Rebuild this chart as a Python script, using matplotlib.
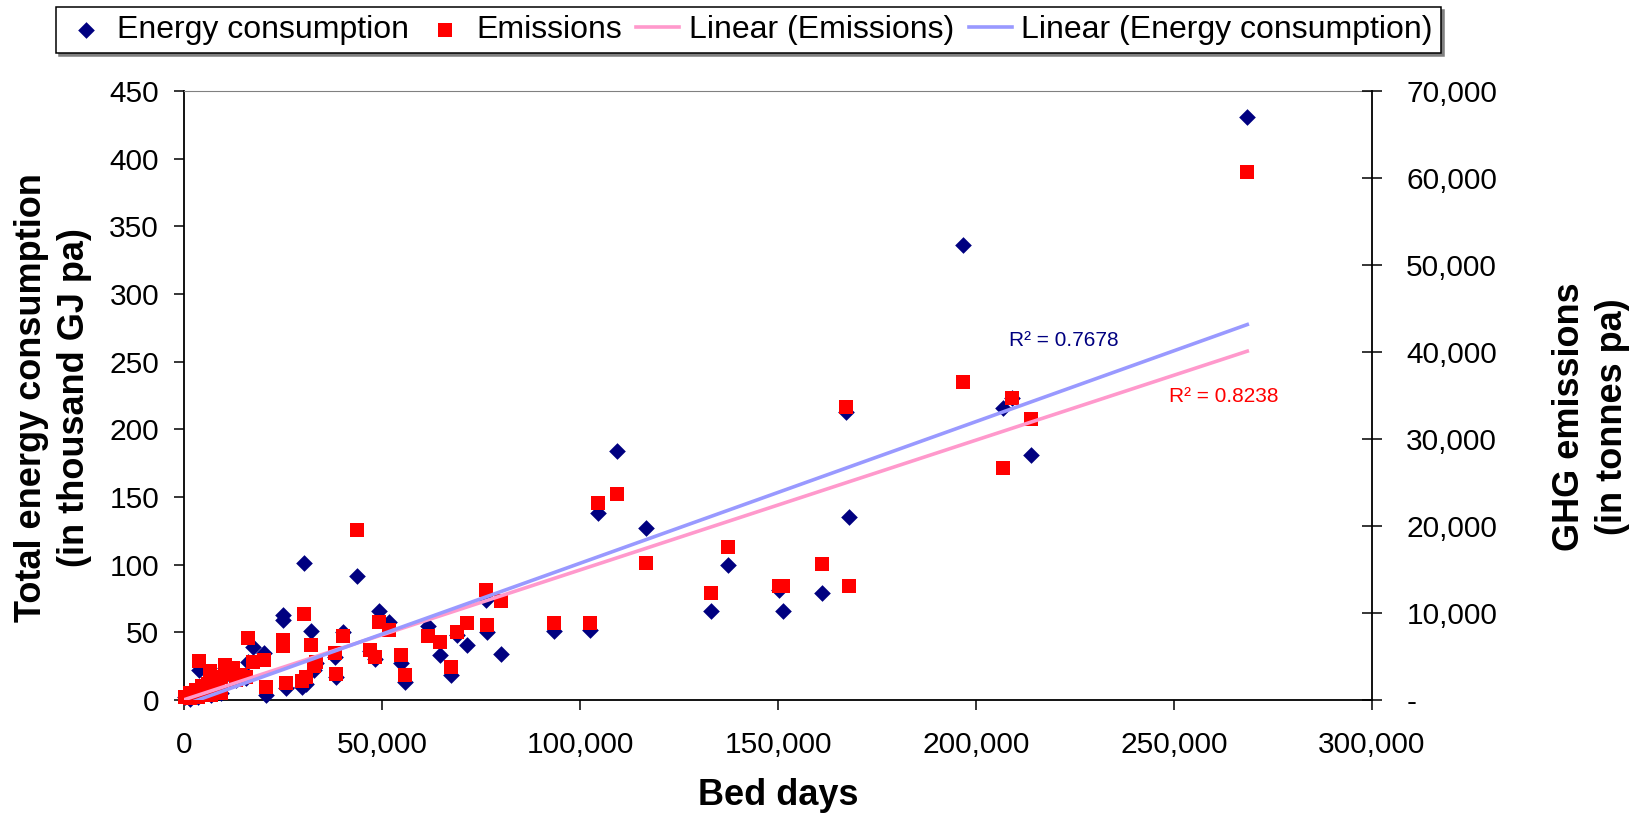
import numpy as np
import matplotlib
matplotlib.use('Agg')
import matplotlib.pyplot as plt
from matplotlib.ticker import FuncFormatter, MultipleLocator

plt.rcParams['font.family'] = ['Liberation Sans', 'DejaVu Sans']

# Bed days, energy (thousand GJ pa), emissions (tonnes pa)
bed_days = [268500, 196600, 206900, 209100, 213900, 167100, 167900, 109400, 104500, 116700,
            137400, 133000, 150200, 151300, 161100, 102500, 93300,
            80100, 76300, 76400, 71400, 68900, 67400, 64700, 61700, 55800, 54900,
            51700, 49200, 48200, 46900, 43600, 40100, 38000, 38400, 33400, 32900,
            32100, 30300, 30900, 29900, 25800, 24900, 24900, 20800, 20200, 17400,
            16200, 3800, 6500,
            250, 1500, 3000, 4500, 6000, 7800, 9300, 11100, 12100, 13100,
            8600, 6800, 3500, 10300, 12400, 14100, 15700, 9400, 1500]
energy = [431, 336, 216, 223, 181, 213, 135, 184, 138, 127,
          100, 66, 81, 66, 79, 52, 51,
          34, 74, 50.5, 40.6, 48, 18.5, 33, 54.7, 13, 27,
          58, 66, 30, 36, 92, 50.5, 32, 16.8, 27, 22,
          51, 101, 12, 9.9, 8.6, 62.8, 59.1, 3.7, 35, 39.4,
          28, 22.2, 19,
          2, 5, 7, 10, 12, 14, 16, 20, 18, 15,
          7, 4, 2, 24, 22, 17, 16, 5, 1]
emissions = [60700, 36500, 26700, 34700, 32300, 33700, 13050, 23700, 22600, 15700,
             17600, 12300, 13100, 13100, 15600, 8900, 8900,
             11400, 12600, 8600, 8900, 7800, 3800, 6700, 7300, 2900, 5200,
             8000, 9000, 5000, 5750, 19500, 7400, 5400, 2950, 4400, 3900,
             6300, 9850, 2600, 2200, 2000, 6900, 6200, 1450, 4650, 4400,
             7100, 4500, 3300,
             350, 800, 1150, 1600, 1850, 2050, 2650, 3200, 3000, 2300,
             1150, 600, 350, 4000, 3650, 2850, 2700, 750, 250]

r2_energy = 'R\u00b2 = 0.7678'
r2_emis = 'R\u00b2 = 0.8238'

x = np.array(bed_days, dtype=float)
e = np.array(energy, dtype=float)
m = np.array(emissions, dtype=float)

# linear trend lines
pe = np.polyfit(x, e, 1)
pm = np.polyfit(x, m, 1)
xt = np.array([x.min(), x.max()])

navy = '#000080'
red = '#FF0000'
pink = '#FF99CC'
lblue = '#9999FF'

fig = plt.figure(figsize=(16.39, 8.17), dpi=100)
ax1 = fig.add_axes([0.1123, 0.1432, 0.7248, 0.7454])
ax2 = ax1.twinx()

s1 = ax1.scatter(x, e, marker='D', s=72, color=navy, linewidths=0, clip_on=False, zorder=3)
s2 = ax2.scatter(x, m, marker='s', s=92, color=red, linewidths=0, clip_on=False, zorder=3)
l2, = ax2.plot(xt, np.polyval(pm, xt), color=pink, lw=2.6, zorder=4)
l1, = ax2.plot(xt, np.polyval(pe, xt), color=lblue, lw=2.6, zorder=5,
               transform=ax1.transData)

ax1.set_xlim(0, 300000)
ax1.set_ylim(0, 450)
ax2.set_ylim(0, 70000)

ax1.xaxis.set_major_locator(MultipleLocator(50000))
ax1.yaxis.set_major_locator(MultipleLocator(50))
ax2.yaxis.set_major_locator(MultipleLocator(10000))
ax1.xaxis.set_major_formatter(FuncFormatter(lambda v, p: f'{v:,.0f}'))
ax2.yaxis.set_major_formatter(FuncFormatter(lambda v, p: '-' if v == 0 else f'{v:,.0f}'))

ax1.tick_params(axis='x', direction='out', length=7.2, width=1.1, pad=15, labelsize=21.5)
ax1.tick_params(axis='y', direction='out', length=7.2, width=1.1, pad=10.8, labelsize=21.5)
ax2.tick_params(axis='y', direction='inout', length=14.4, width=1.1, pad=17.5, labelsize=21.5)

ax1.spines['right'].set_visible(False)
ax1.spines['top'].set_color('#808080')
for s in ['left', 'bottom']:
    ax1.spines[s].set_linewidth(1.3)
for s in ['left', 'bottom', 'top']:
    ax2.spines[s].set_visible(False)
ax2.spines['right'].set_linewidth(1.3)

ax1.set_xlabel('Bed days', fontsize=26, fontweight='bold')
ax1.xaxis.set_label_coords(0.5, -0.128)
ax1.set_ylabel('Total energy consumption\n(in thousand GJ pa)', fontsize=26,
               fontweight='bold', va='center', linespacing=1.3)
ax1.yaxis.set_label_coords(-0.110, 0.496)
ax2.set_ylabel('GHG emissions\n(in tonnes pa)', fontsize=26, fontweight='bold',
               va='center', linespacing=1.3)
ax2.yaxis.set_label_coords(1.184, 0.466)

ax1.text(208300, 266, r2_energy, color=navy, fontsize=15, ha='left', va='center')
ax1.text(248700, 224, r2_emis, color=red, fontsize=15, ha='left', va='center')

leg = fig.legend([s1, s2, l2, l1],
                 ['Energy consumption', 'Emissions', 'Linear (Emissions)',
                  'Linear (Energy consumption)'],
                 loc='center', bbox_to_anchor=(0.4567, 0.9633), ncol=4,
                 fontsize=23, frameon=True, fancybox=False,
                 shadow={'color': '#808080', 'alpha': 1.0},
                 edgecolor='black', handlelength=1.35, handletextpad=0.3,
                 columnspacing=0.45, borderpad=0.25, scatterpoints=1,
                 borderaxespad=0)
leg.get_frame().set_linewidth(1.1)

plt.savefig('out.png', dpi=100)
plt.close()
